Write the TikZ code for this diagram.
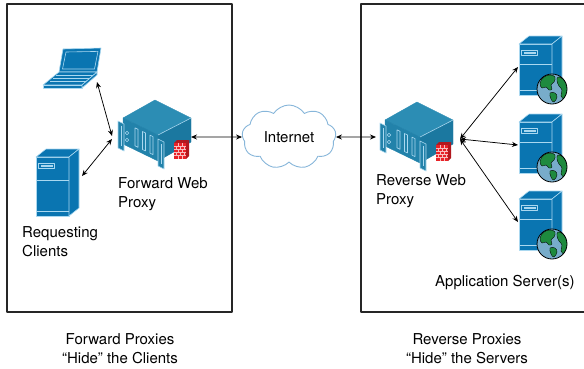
\documentclass[tikz,border=0pt]{standalone}
\usepackage{fontspec}
\setmainfont{TeX Gyre Heros}
\usetikzlibrary{shapes.symbols,arrows.meta}

\definecolor{devblue}{RGB}{10,117,177}
\definecolor{devline}{RGB}{170,216,240}
\definecolor{pxtop}{RGB}{44,141,180}
\definecolor{pxfront}{RGB}{34,130,170}
\definecolor{pxside}{RGB}{27,120,160}
\definecolor{fwred}{RGB}{232,34,40}
\definecolor{fwdark}{RGB}{178,24,30}
\definecolor{sea}{RGB}{120,172,202}
\definecolor{land}{RGB}{30,138,62}
\definecolor{cloudline}{RGB}{135,182,218}

\tikzset{
  frame/.style={draw=black!85,line width=1.6pt},
  lbl/.style={font=\fontsize{15}{19}\selectfont,inner sep=0pt,align=left},
  link/.style={{Stealth[length=6pt,width=5pt]}-{Stealth[length=6pt,width=5pt]},line width=0.75pt},
  hl/.style={draw=devline,line width=0.6pt},
  % notebook computer, origin at the top left corner of the lid
  pics/laptop/.style={code={
    \filldraw[fill=devblue,hl] (0,0) -- (38,-1) -- (34,23) -- (-4,23) -- cycle;
    \draw[hl] (3,3) -- (35,2.4) -- (31.5,20) -- (-0.5,20) -- cycle;
    \filldraw[fill=devblue,hl] (-4,23) -- (34,23) -- (19,36) -- (-20,36) -- cycle;
    \filldraw[fill=devblue,hl] (-20,36) -- (19,36) -- (19,39) -- (-20,39) -- cycle;
    \filldraw[fill=devblue,hl] (19,36) -- (34,23) -- (34,26) -- (19,39) -- cycle;
    \draw[hl,line width=0.4pt] (-7,26.5) -- (29.5,26.5) (-10,29.5) -- (26,29.5) (-13,32.5) -- (22.5,32.5);
    \coordinate (-port) at (34,33);
  }},
  % tower server, argument = height of the front panel
  pics/tower/.style={code={
    \filldraw[fill=devblue,hl] (0,0) rectangle (33,#1);
    \filldraw[fill=devblue,hl] (0,0) -- (10,-8) -- (43,-8) -- (33,0) -- cycle;
    \filldraw[fill=devblue,hl] (33,0) -- (43,-8) -- (43,#1-8) -- (33,#1) -- cycle;
    \draw[hl] (2.5,6) rectangle (18.5,11.5);
    \fill[devline] (4.5,8) rectangle (16.5,9.5);
    \draw[hl] (0,0.39*#1) -- (33,0.39*#1) (0,#1-5) -- (33,#1-5);
    \coordinate (-west) at (-1,23);
    \coordinate (-east) at (46,19);
  }},
  % world globe badge
  pics/globe/.style={code={
    \fill[sea] (0,0) circle (15);
    \begin{scope}
      \clip (0,0) circle (15);
      \filldraw[fill=land,draw=black,line width=0.35pt] plot[smooth cycle,tension=0.7] coordinates
        {(-12,-6) (-8,-12) (-2,-14) (3,-12) (2,-7) (-1,-4) (0,0) (-3,1) (-6,-2) (-10,-1)};
      \filldraw[fill=land,draw=black,line width=0.35pt] plot[smooth cycle,tension=0.7] coordinates
        {(-2,4) (3,4) (5,8) (2,13) (-1,10)};
      \filldraw[fill=land,draw=black,line width=0.35pt] plot[smooth cycle,tension=0.7] coordinates
        {(6,-12) (11,-10) (15,-4) (16,4) (13,10) (9,7) (10,1) (7,-3) (5,-8)};
    \end{scope}
    \draw[black,line width=0.8pt] (0,0) circle (15);
  }},
  % rack mounted proxy appliance with firewall badge
  pics/proxy/.style={code={
    \filldraw[fill=pxtop,draw=pxtop] (0,0) -- (32,-18) -- (68,0) -- (35,17) -- cycle;
    \filldraw[fill=pxfront,draw=pxfront] (0,0) -- (35,17) -- (35,43) -- (0,26) -- cycle;
    \filldraw[fill=pxside,draw=pxside] (35,17) -- (68,0) -- (68,24) -- (35,43) -- cycle;
    \draw[hl] (35,17) -- (68,0);
    \foreach \s in {12,19.5,27}{
      \filldraw[fill=pxfront,hl] (\s,{0.486*\s+4}) -- ({\s+3},{0.486*(\s+3)+4})
        -- ({\s+3},{0.486*(\s+3)+22}) -- (\s,{0.486*\s+22}) -- cycle;
    }
    \draw[hl] (4,15) circle (1.8) (4,22) circle (1.8);
    \filldraw[fill=pxfront,hl] (-5,3) -- (1,6) -- (1,33) -- (-5,30) -- cycle;
    \draw[hl] (-2,7.5) -- (-2,28);
    \filldraw[fill=pxfront,hl] (35,21) -- (41,24) -- (41,51) -- (35,48) -- cycle;
    \draw[hl] (38,26) -- (38,46);
    \fill[fwdark] (51,25) -- (54,22) -- (66,22) -- (63,25) -- cycle;
    \fill[fwdark] (63,25) -- (66,22) -- (66,38) -- (63,41) -- cycle;
    \fill[fwred] (51,25) rectangle (63,41);
    \draw[white!70!fwred,line width=0.3pt]
      (51,28) -- (63,28) (51,31) -- (63,31) (51,34) -- (63,34) (51,37) -- (63,37)
      (55,25) -- (55,28) (59,25) -- (59,28)
      (53,28) -- (53,31) (57,28) -- (57,31) (61,28) -- (61,31)
      (55,31) -- (55,34) (59,31) -- (59,34)
      (53,34) -- (53,37) (57,34) -- (57,37) (61,34) -- (61,37)
      (55,37) -- (55,41) (59,37) -- (59,41);
    \coordinate (-nw) at (-11,18);
    \coordinate (-sw) at (-11,21);
    \coordinate (-west) at (-9,17);
    \coordinate (-east) at (68,19);
    \coordinate (-hub) at (75,19);
  }},
}

\begin{document}
\begin{tikzpicture}[x=1pt,y=-1pt,line join=round]
\useasboundingbox (0,0) rectangle (584,368);

% the two zones
\draw[frame] (7,4) rectangle (232,312);
\draw[frame] (361,4) rectangle (600,312);

% client side
\pic (lap) at (63,49) {laptop};
\pic (cli) at (36,157) {tower=59};
\pic (fwd) at (123,118) {proxy};

% internet
\node[cloud,draw=cloudline,fill=white,line width=0.9pt,cloud puffs=9,cloud puff arc=115,aspect=1.5,
      minimum width=94pt,minimum height=64pt,inner sep=0pt,
      font=\fontsize{15}{19}\selectfont] (net) at (289,137) {Internet};

% server side
\pic (rev) at (385,120) {proxy};
\pic (app1) at (519,44) {tower=51};
\pic (glb1) at (552,89) {globe};
\pic (app2) at (519,122) {tower=51};
\pic (glb2) at (552,167) {globe};
\pic (app3) at (519,199) {tower=51};
\pic (glb3) at (552,244) {globe};

% connections
\draw[link] (lap-port) -- (fwd-nw);
\draw[link] (cli-east) -- (fwd-sw);
\draw[link] (fwd-east) -- (net.west);
\draw[link] (net.east) -- (rev-west);
\draw[link] (rev-hub) -- (app1-west);
\draw[link] (rev-hub) -- (app2-west);
\draw[link] (rev-hub) -- (app3-west);

% labels
\node[lbl,anchor=north west] (fwdtxt) at (118,177) {Forward Web\\Proxy};
\node[lbl,anchor=north west] (clitxt) at (22,226) {Requesting\\Clients};
\node[lbl,anchor=north west] (revtxt) at (376,174) {Reverse Web\\Proxy};
\node[lbl,anchor=base west] (apptxt) at (435,286) {Application Server(s)};
\node[lbl,align=center,anchor=north] (fwdcap) at (120,333) {Forward Proxies\\“Hide” the Clients};
\node[lbl,align=center,anchor=north] (revcap) at (467,333) {Reverse Proxies\\“Hide” the Servers};
\end{tikzpicture}
\end{document}
